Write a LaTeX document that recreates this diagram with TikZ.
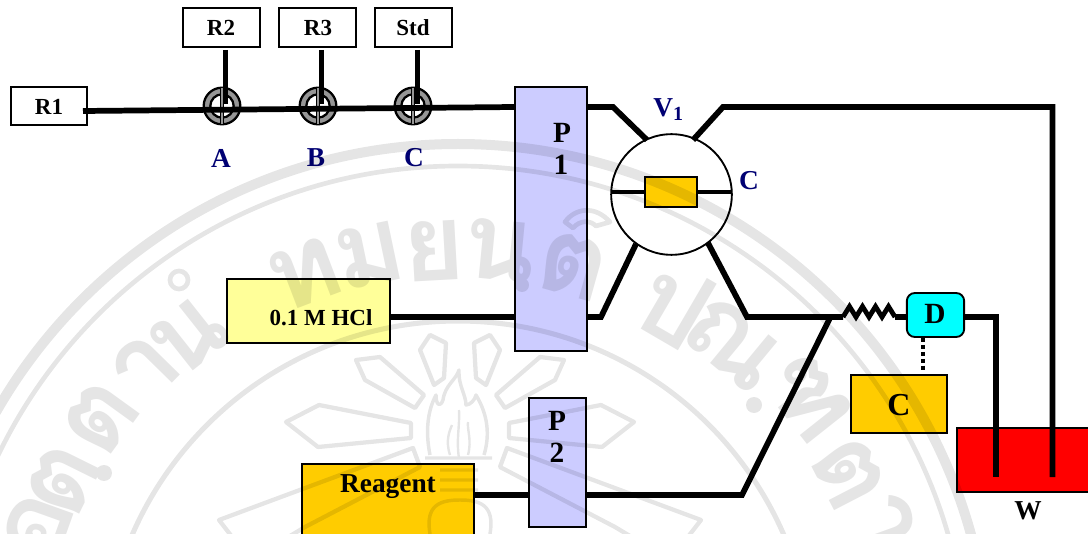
\documentclass[tikz,border=0pt]{standalone}
\usepackage{fontspec}
\setmainfont{Liberation Serif}
\newfontfamily\thaifont[Script=Thai]{Loma}
\usetikzlibrary{calc}
\definecolor{pumpblue}{HTML}{CCCCFF}
\definecolor{amber}{HTML}{FFCC00}
\definecolor{paleyellow}{HTML}{FFFF99}
\definecolor{navylabel}{HTML}{000073}
\definecolor{pureCyan}{HTML}{00FFFF}
\definecolor{pureRed}{HTML}{FF0000}
\definecolor{ringgray}{HTML}{969696}
\tikzset{
  x=0.75pt,y=-0.75pt,
  boxbase/.style={draw=black,line width=1.4pt,inner sep=0pt,outer sep=0pt,rectangle},
  pipe/.style={draw=black,line width=4.3pt,line join=miter,line cap=butt},
  thinpipe/.style={draw=black,line width=3pt},
  txtA/.style={font=\bfseries\fontsize{17.25}{18}\selectfont,inner sep=0pt},
  txtB/.style={font=\bfseries\fontsize{20.5}{22}\selectfont,inner sep=0pt},
  txtBlue/.style={txtB,text=navylabel},
  txtC/.style={font=\bfseries\fontsize{22}{24}\selectfont,inner sep=0pt},
  valveouter/.style={circle,draw=black,line width=1.7pt,fill=ringgray,minimum size=27.5pt,inner sep=0pt,outer sep=0pt},
  valveinner/.style={circle,draw=black,line width=1.7pt,fill=white,minimum size=17.5pt,inner sep=0pt,outer sep=0pt},
  wmline/.style={draw=black,line width=3.2pt},
  thaiglyph/.style={font=\thaifont\bfseries\fontsize{80}{80}\selectfont,inner sep=0pt,text=black},
}
\begin{document}
\begin{tikzpicture}
\useasboundingbox (0,0) rectangle (1088,534);
\clip (0,0) rectangle (1088,534);
\fill[white] (0,0) rectangle (1088,534);

% ---------- boxes ----------
\node[boxbase,fill=white,minimum width=57pt,minimum height=28.5pt] (R1) at (49,106) {};
\node[boxbase,fill=white,minimum width=57.5pt,minimum height=29pt] (R2) at (221.5,27.5) {};
\node[boxbase,fill=white,minimum width=57.5pt,minimum height=29pt] (R3) at (317.5,27.5) {};
\node[boxbase,fill=white,minimum width=57.5pt,minimum height=29pt] (Std) at (413.5,27.5) {};
\node[boxbase,fill=pumpblue,minimum width=54pt,minimum height=198pt] (P1) at (551,219) {};
\node[boxbase,fill=pumpblue,minimum width=42.5pt,minimum height=97pt] (P2) at (557.5,462.5) {};
\node[boxbase,fill=paleyellow,minimum width=122pt,minimum height=48pt] (HCl) at (308.5,311) {};
\node[boxbase,fill=amber,minimum width=129pt,minimum height=54pt] (Reagent) at (388,500) {};
\node[boxbase,fill=amber,minimum width=72pt,minimum height=43.5pt] (Cbox) at (899,404) {};
\node[boxbase,fill=pureRed,minimum width=120pt,minimum height=48pt] (W) at (1037,460) {};
\node[boxbase,fill=pureCyan,rounded corners=6pt,minimum width=43pt,minimum height=33pt] (D) at (935.5,315) {};

% ---------- valve V1 ----------
\node[circle,draw=black,line width=1.4pt,fill=white,minimum size=90.5pt,inner sep=0pt,outer sep=0pt] (V1) at (671.5,194.5) {};
\node[boxbase,fill=amber,minimum width=39pt,minimum height=22.5pt] (col) at (671,192) {};
\coordinate (V1l) at (611,192);
\coordinate (V1r) at (732,192);
\draw[thinpipe] (V1l) -- (col.west);
\draw[thinpipe] (col.east) -- (V1r);

% ---------- selection valves ----------
\foreach \n/\x in {A/222,B/318,C/413}{
  \node[valveouter] (v\n) at (\x,106) {};
  \node[valveinner] (i\n) at (\x,106) {};
  \draw[black,line width=3.6pt] (v\n.north) -- (v\n.south);
  \draw[ringgray,line width=1.8pt] (v\n.north) -- (v\n.south);
}

% ---------- connectors ----------
\coordinate (r1out) at (83,111);
\coordinate (p1in) at (515,107);
\draw[pipe] (r1out) -- (p1in);
\coordinate (s2) at (225.5,104);
\coordinate (s3) at (321.5,104);
\coordinate (s4) at (417.5,104);
\coordinate (t2) at (225.5,50);
\coordinate (t3) at (321.5,50);
\coordinate (t4) at (417.5,50);
\draw[pipe] (t2) -- (s2);
\draw[pipe] (t3) -- (s3);
\draw[pipe] (t4) -- (s4);

\coordinate (a1) at (587,107);
\coordinate (a2) at (613,107);
\coordinate (a3) at (647,140);
\draw[pipe] (a1) -- (a2) -- (a3);
\coordinate (b1) at (693,140);
\coordinate (b2) at (723,107);
\coordinate (b3) at (1052.5,107);
\coordinate (b4) at (1052.5,477);
\draw[pipe] (b1) -- (b2) -- (b3) -- (b4);
\coordinate (c0) at (515,317);
\coordinate (c1) at (587,317);
\coordinate (c2) at (601,317);
\coordinate (c3) at (636,244);
\draw[pipe] ($(HCl.east)+(0,6)$) -- (c0);
\draw[pipe] (c1) -- (c2) -- (c3);
\coordinate (d1) at (708,243);
\coordinate (d2) at (747,317);
\coordinate (d3) at (843,317);
\coordinate (d4) at (895,317);
\coordinate (d5) at (907,317);
\draw[pipe] (d1) -- (d2) -- (d3);
\draw[black,line width=3.6pt,line join=miter]
  (d3) -- (849.5,306.5) -- (856,317) -- (862.5,306.5) -- (869,317) -- (875.5,306.5) -- (882,317) -- (888.5,306.5) -- (d4);
\draw[pipe] (d4) -- (d5);
\coordinate (e1) at (830,318);
\coordinate (e2) at (742,495);
\coordinate (e3) at (586,495);
\coordinate (e4) at (529,495);
\draw[pipe] (e1) -- (e2) -- (e3);
\draw[pipe] ($(Reagent.east)+(0,-5)$) -- (e4);
\coordinate (f1) at (964,317);
\coordinate (f2) at (996,317);
\coordinate (f3) at (996,477);
\draw[pipe] (f1) -- (f2) -- (f3);
\coordinate (g1) at (923,338);
\coordinate (g2) at (923,372);
\draw[black,line width=3pt,dash pattern=on 3pt off 2.2pt] (g1) -- (g2);

% ---------- texts ----------
\node[txtA] (tR1) at (49,107) {R1};
\node[txtA] (tR2) at (221,28) {R2};
\node[txtA] (tR3) at (318,28) {R3};
\node[txtA] (tStd) at (413,28) {Std};
\node[txtA] (tHCl) at (321,318) {0.1 M HCl};
\node[txtB] (tReagent) at (388,487) {Reagent};
\node[txtBlue] (tA) at (221,158) {A};
\node[txtBlue] (tB) at (316,158) {B};
\node[txtBlue] (tC) at (414,158) {C};
\node[txtBlue,anchor=base west] (tV) at (653,117) {V\raisebox{-3pt}{\fontsize{15}{16}\selectfont 1}};
\node[txtBlue] (tCc) at (749,181) {C};
\node[txtC] (tP1) at (562,133) {P};
\node[txtC] (t1) at (561,165) {1};
\node[txtC] (tP2) at (557,421) {P};
\node[txtC] (t2t) at (557,453) {2};
\node[txtC] (tD) at (935,314) {D};
\node[font=\bfseries\fontsize{24}{26}\selectfont,inner sep=0pt] (tCbig) at (899,405) {C};
\node[txtB] (tW) at (1028,511) {W};

% ---------- watermark ----------
\begin{scope}[transparency group,opacity=.1]
  \coordinate (sealc) at (458,676);
  \draw[black,line width=7.5pt] (sealc) circle[radius=532];
  \draw[black,line width=3.5pt] (sealc) circle[radius=510];
  \draw[black,line width=3.8pt] (sealc) circle[radius=355];
  % letters along the arc
  \foreach \i/\x/\y/\g in {1/31/523/อ,2/56/477/ต,3/94/413/ต,4/139/363/า,5/184/330/น,6/302/267/ท,7/368/247/ม,8/434/243/ย,9/500/243/น,10/575/258/ต,11/679/297/ป,12/738/337/ณ,13/815/393/ฑ,14/856/470/ต,15/891/520/า}{
    \pgfmathsetmacro{\rot}{-atan2(\x-458,676-\y)}
    \node[thaiglyph,rotate=\rot] (th\i) at ($(\x,\y)!6pt!(sealc)$) {\g};
  }
  \fill[black] (104,473) circle[radius=8];
  \fill[black] (522,285) circle[radius=7];
  \fill[black] (754,405) circle[radius=8];
  \draw[black,line width=3.5pt] (179,280) circle[radius=9];
  \draw[black,line width=3.5pt,line join=round] (565,222) .. controls (575,208) and (595,205) .. (610,222) -- (596,226) .. controls (590,220) and (580,220) .. (573,228) -- cycle;
  % rays
  \foreach \s/\o in {1/0,-1/920}{
    \begin{scope}[xscale=\s,xshift=\o*.75pt*\s]
      \draw[wmline,line join=round] (430,335) -- (446,343) -- (444,378) -- (434,385) -- (420,350) -- cycle;
      \draw[wmline,line join=round] (356,360) -- (380,357) -- (424,395) -- (415,408) -- (365,380) -- cycle;
      \draw[wmline,line join=round] (286,422) -- (319,405) -- (411,423) -- (411,438) -- (318,447) -- cycle;
      \draw[wmline,line join=round] (219,520) -- (413,448) -- (420,467) -- (305,527) -- (250,560) -- cycle;
    \end{scope}
  }
  % flame and urn
  \draw[black,line width=2.6pt,line join=round]
    (430,455) .. controls (425,430) and (428,410) .. (436,395)
    .. controls (436,405) and (440,408) .. (443,400)
    .. controls (445,385) and (456,380) .. (459,370)
    .. controls (458,385) and (466,395) .. (466,405)
    .. controls (470,405) and (475,400) .. (476,395)
    .. controls (488,415) and (490,435) .. (484,455);
  \draw[black,line width=1.8pt] (450,455) .. controls (445,440) and (450,430) .. (452,425);
  \draw[black,line width=1.8pt] (459,458) .. controls (456,440) and (460,425) .. (459,410);
  \draw[black,line width=1.8pt] (468,455) .. controls (472,440) and (467,430) .. (468,422);
  \draw[black,line width=2.6pt] (425,458) -- (492,458);
  \draw[black,line width=2.4pt] (440,470) -- (478,470) (440,480) -- (478,480) (440,490) -- (478,490);
  \draw[black,line width=2.6pt] (430,534) .. controls (425,505) and (440,500) .. (460,500) .. controls (480,500) and (495,505) .. (490,534);
\end{scope}
\end{tikzpicture}
\end{document}
